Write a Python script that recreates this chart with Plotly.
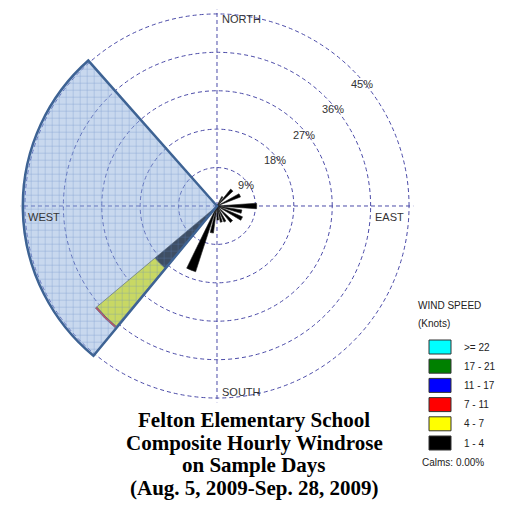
import plotly.graph_objects as go

# ---- data ----
directions = [30, 43, 65, 90, 103, 117, 137, 153, 165, 177, 191, 202, 225]
spd_1_4 = [2.5, 5.1, 5.9, 9.3, 5.9, 6.5, 5.0, 4.1, 3.9, 3.3, 6.4, 16.2, 19.0]
spd_4_7 = [0, 0, 0, 0, 0, 0, 0, 0, 0, 0, 0, 0, 17.8]
spd_7_11 = [0, 0, 0, 0, 0, 0, 0, 0, 0, 0, 0, 0, 0.4]
spd_11_17 = [0] * 13
spd_17_21 = [0] * 13
spd_22 = [0] * 13
bar_widths = [7, 8, 8, 8, 8, 8, 8, 7, 7, 7, 7, 8, 10]

speed_labels = ["1 - 4", "4 - 7", "7 - 11", "11 - 17", "17 - 21", ">= 22"]
speed_colors = ["#000000", "#ffff00", "#ff0000", "#0000ff", "#008000", "#00ffff"]
speed_series = [spd_1_4, spd_4_7, spd_7_11, spd_11_17, spd_17_21, spd_22]

sector_center = [269]
sector_width = [99]
sector_r = [45.5]

ring_vals = [9, 18, 27, 36, 45]
ring_text = ["9%", "18%", "27%", "36%", "45%"]

compass_text = ["NORTH", "EAST", "SOUTH", "WEST"]

title_lines = ["Felton Elementary School", "Composite Hourly Windrose",
               "on Sample Days", "(Aug. 5, 2009-Sep. 28, 2009)"]
calms_text = "Calms: 0.00%"

W, H = 508, 514
fig = go.Figure()

for vals, lab, col in zip(speed_series, speed_labels, speed_colors):
    fig.add_trace(go.Barpolar(
        r=vals, theta=directions, width=bar_widths, name=lab, showlegend=False,
        marker=dict(color=col, line=dict(color="#222222", width=0.6)),
    ))

fig.add_trace(go.Barpolar(
    r=sector_r, theta=sector_center, width=sector_width, showlegend=False,
    marker=dict(
        color="rgba(135,170,218,0.46)",
        line=dict(color="#3e6394", width=2.5),
        pattern=dict(shape="+", fgcolor="#5d84c0", fgopacity=0.6, size=7,
                     solidity=0.12, fillmode="overlay"),
    ),
))

# ring percentage labels
fig.add_trace(go.Scatterpolar(
    r=ring_vals, theta=[49] * len(ring_vals), mode="text", text=ring_text,
    textposition="bottom center", showlegend=False,
    textfont=dict(family="Liberation Sans, Arial", size=11, color="#333333"),
))

R_MAX = 46
fig.update_layout(
    width=W, height=H,
    margin=dict(l=0, r=0, t=0, b=0),
    paper_bgcolor="white",
    showlegend=False,
    font=dict(family="Liberation Sans, Arial", size=11, color="#333333"),
    polar=dict(
        domain=dict(x=[0.0407, 0.8136], y=[0.2173, 0.9812]),
        bgcolor="rgba(0,0,0,0)",
        barmode="stack",
        radialaxis=dict(
            range=[0, R_MAX], tickvals=ring_vals, showticklabels=False,
            showline=False, ticks="",
            gridcolor="#4a4aa8", griddash="4px,3px", gridwidth=1.2,
        ),
        angularaxis=dict(
            direction="clockwise", rotation=90,
            tickvals=[0, 90, 180, 270], showticklabels=False, ticks="",
            showline=False,
            gridcolor="#4a4aa8", griddash="4px,3px", gridwidth=1.2,
        ),
    ),
)

ann = []
# compass labels inside the outer ring (pixel placement, layout only)
cx, cy, rad = 217, 206, 192
compass_place = [
    (cx + 3, cy - rad + 5, "left"),
    (cx + rad - 3, cy + 11, "right"),
    (cx + 3, cy + rad - 6, "left"),
    (cx - rad + 1, cy + 11, "left"),
]
for txt, (px, py, anc) in zip(compass_text, compass_place):
    ann.append(dict(text=txt, x=px / W, y=1 - py / H, xref="paper", yref="paper",
                    xanchor=anc, yanchor="middle", showarrow=False,
                    font=dict(family="Liberation Sans, Arial", size=11, color="#333333")))

# custom legend
ann.append(dict(text="WIND SPEED", x=416 / W, y=1 - 305 / H, xref="paper", yref="paper",
                xanchor="left", yanchor="middle", showarrow=False,
                font=dict(size=10, color="#222222")))
ann.append(dict(text="(Knots)", x=416 / W, y=1 - 323 / H, xref="paper", yref="paper",
                xanchor="left", yanchor="middle", showarrow=False,
                font=dict(size=10, color="#222222")))
shapes = []
for i, (lab, col) in enumerate(zip(speed_labels[::-1], speed_colors[::-1])):
    yc = 347 + 19.2 * i
    shapes.append(dict(type="rect", xref="paper", yref="paper",
                       x0=429 / W, x1=451 / W, y0=1 - (yc + 7) / H, y1=1 - (yc - 7) / H,
                       fillcolor=col, line=dict(color="#333333", width=1)))
    ann.append(dict(text=lab, x=462 / W, y=1 - yc / H, xref="paper", yref="paper",
                    xanchor="left", yanchor="middle", showarrow=False,
                    font=dict(size=10, color="#222222")))
ann.append(dict(text=calms_text, x=420 / W, y=1 - 462 / H, xref="paper", yref="paper",
                xanchor="left", yanchor="middle", showarrow=False,
                font=dict(size=10, color="#222222")))

# title
for i, line in enumerate(title_lines):
    yc = 420 + 22.7 * i
    ann.append(dict(text="<b>" + line + "</b>", x=254 / W, y=1 - yc / H,
                    xref="paper", yref="paper", xanchor="center", yanchor="middle",
                    showarrow=False,
                    font=dict(family="Liberation Serif, Times New Roman", size=21, color="black")))

fig.update_layout(annotations=ann, shapes=shapes)
fig.write_html("out.html")
